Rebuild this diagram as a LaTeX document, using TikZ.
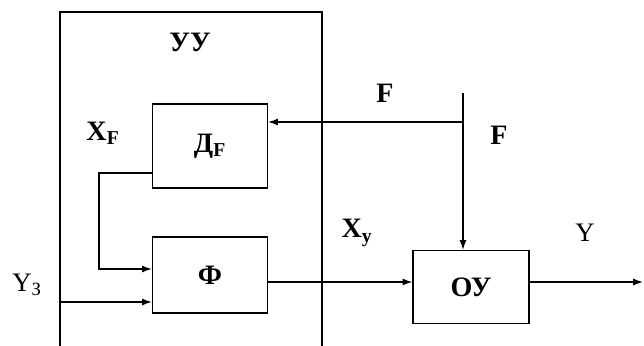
\documentclass[tikz,border=0pt]{standalone}
\usepackage{fontspec}
\setmainfont{Liberation Serif}
\usetikzlibrary{arrows.meta}
\begin{document}
\begin{tikzpicture}[x=0.025cm,y=-0.025cm,line width=0.9pt,
  every node/.style={font=\fontsize{20}{22}\selectfont\bfseries},
  blk/.style={draw,minimum width=2.875cm,inner sep=0pt},
  lbl/.style={font=\fontsize{19}{21}\selectfont},
  >={Latex[length=7pt,width=5pt]}]
\useasboundingbox (0,0) rectangle (644,346);
% control unit frame
\draw (60,346) -- (60,12) -- (322,12) -- (322,346);
\node (uu) at (190,42) {УУ};
\node[blk,minimum height=2.1cm] (df) at (210,146) {Д\textsubscript{F}};
\node[blk,minimum height=1.9cm] (phi) at (210,275) {Ф};
\node[blk,minimum width=2.9cm,minimum height=1.825cm] (ou) at (471,287) {ОУ};
\node (xf) at (103,133) {X\textsubscript{F}};
\node (f1) at (385,93) {F};
\node (f2) at (499,135) {F};
\node (xy) at (357,233) {X\textsubscript{у}};
\node[lbl] (y) at (585,233) {Y};
\node[lbl] (yz) at (27,285) {Y\textsubscript{З}};
% connectors
\coordinate (ftop) at (463,93);
\coordinate (fj) at (463,122);
\coordinate (bend) at (99,173);
\coordinate (yin) at (60,302);
\coordinate (yout) at (643,282);
\draw[->] (ftop) -- (ftop |- ou.north);
\draw[->] (fj) -- (fj -| df.east);
\draw[->] (df.west |- bend) -- (bend) |- (phi.west |- 0,269);
\draw[->] (yin) -- (yin -| phi.west);
\draw[->] (phi.east |- 0,282) -- (ou.west |- 0,282);
\draw[->] (ou.east |- yout) -- (yout);
\end{tikzpicture}
\end{document}
